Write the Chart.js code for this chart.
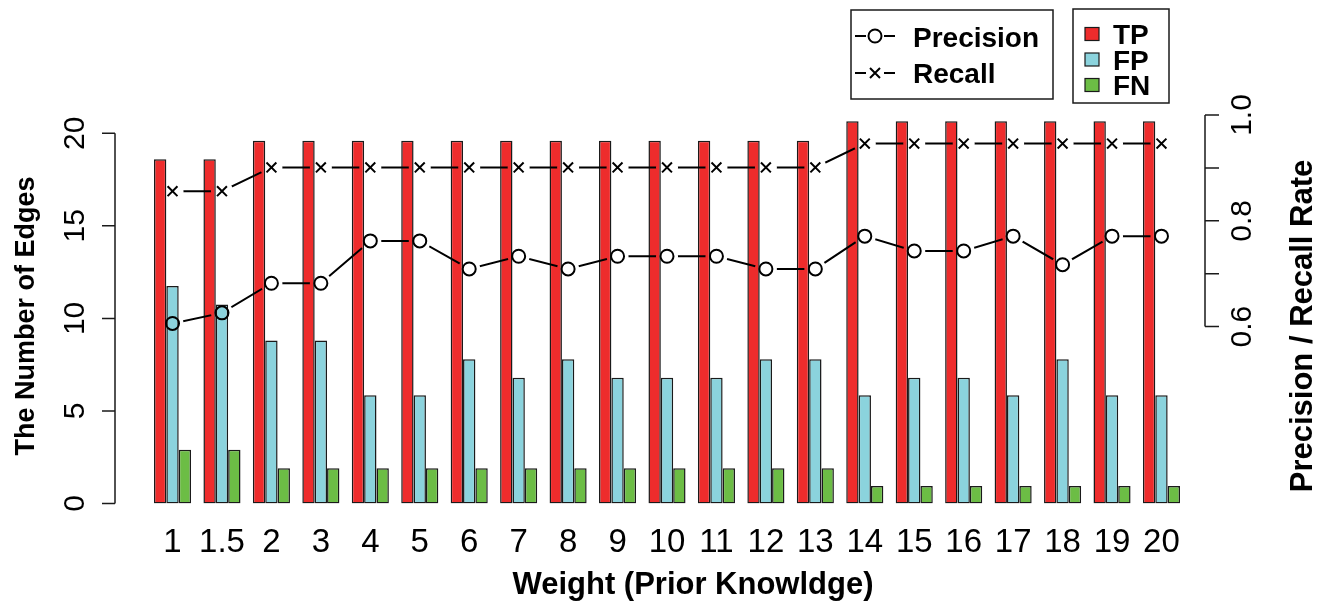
<!DOCTYPE html>
<html lang="en">
  <head>
    <meta charset="UTF-8" />
    <title>TP / FP / FN by weight</title>
    <style>
      body {
        margin: 0;
        background-color: white;
      }
      #chart-box {
        width: 1320px;
        height: 605px;
      }
    </style>
  </head>
  <body>
    <script src="https://cdn.jsdelivr.net/npm/chart.js@4.4.1/dist/chart.umd.min.js"></script>
    <div id="chart-box">
      <canvas id="edges-chart" width="1320" height="605"></canvas>
    </div>
    <script>
      // values
      var weights = ["1", "1.5", "2", "3", "4", "5", "6", "7", "8", "9", "10",
        "11", "12", "13", "14", "15", "16", "17", "18", "19", "20"];
      var tpData = [18.6, 18.6, 19.6, 19.6, 19.6, 19.6, 19.6, 19.6, 19.6, 19.6, 19.6,
        19.6, 19.6, 19.6, 20.65, 20.65, 20.65, 20.65, 20.65, 20.65, 20.65];
      var fpData = [11.75, 10.75, 8.8, 8.8, 5.85, 5.85, 7.8, 6.8, 7.8, 6.8, 6.8,
        6.8, 7.8, 7.8, 5.85, 6.8, 6.8, 5.85, 7.8, 5.85, 5.85];
      var fnData = [2.9, 2.9, 1.9, 1.9, 1.9, 1.9, 1.9, 1.9, 1.9, 1.9, 1.9,
        1.9, 1.9, 1.9, 0.95, 0.95, 0.95, 0.95, 0.95, 0.95, 0.95];
      var precisionData = [0.606, 0.626, 0.682, 0.682, 0.762, 0.762, 0.709, 0.733, 0.709, 0.733, 0.733,
        0.733, 0.709, 0.709, 0.771, 0.743, 0.743, 0.771, 0.717, 0.771, 0.771];
      var recallData = [0.856, 0.856, 0.901, 0.901, 0.901, 0.901, 0.901, 0.901, 0.901, 0.901, 0.901,
        0.901, 0.901, 0.901, 0.946, 0.946, 0.946, 0.946, 0.946, 0.946, 0.946];
      var leftTicks = [0, 5, 10, 15, 20];
      var rightTicks = [0.6, 0.7, 0.8, 0.9, 1.0];
      var rightTickLabels = ["0.6", "", "0.8", "", "1.0"];

      var FONT = '"Liberation Sans", Arial, sans-serif';
      var INK = "#1a1a1a";

      // cut the connecting lines short around each point, like R type="b"
      var gapPlugin = {
        id: "gaps",
        beforeDatasetDraw: function (chart, args) {
          var ds = chart.data.datasets[args.index];
          if (!ds.gapR) return;
          var ctx = chart.ctx;
          ctx.save();
          ctx.beginPath();
          ctx.rect(0, 0, chart.width, chart.height);
          args.meta.data.forEach(function (p) {
            ctx.moveTo(p.x + ds.gapR, p.y);
            ctx.arc(p.x, p.y, ds.gapR, 0, Math.PI * 2);
          });
          ctx.clip("evenodd");
        },
        afterDatasetDraw: function (chart, args) {
          if (chart.data.datasets[args.index].gapR) chart.ctx.restore();
        },
      };

      function rotatedText(ctx, text, x, y) {
        ctx.save();
        ctx.translate(x, y);
        ctx.rotate(-Math.PI / 2);
        ctx.fillText(text, 0, 0);
        ctx.restore();
      }

      // R style axes, labels and the two legend boxes
      var axesPlugin = {
        id: "rAxes",
        afterDraw: function (chart) {
          var ctx = chart.ctx;
          var ys = chart.scales.y, y2 = chart.scales.y1, xs = chart.scales.x;
          ctx.save();
          ctx.strokeStyle = INK;
          ctx.fillStyle = "black";
          ctx.lineWidth = 1.5;

          // left axis
          var lx = 115;
          ctx.beginPath();
          ctx.moveTo(lx, ys.getPixelForValue(0));
          ctx.lineTo(lx, ys.getPixelForValue(20));
          leftTicks.forEach(function (t) {
            ctx.moveTo(lx, ys.getPixelForValue(t));
            ctx.lineTo(lx - 13, ys.getPixelForValue(t));
          });
          ctx.stroke();
          ctx.font = "30px " + FONT;
          ctx.textAlign = "center";
          ctx.textBaseline = "alphabetic";
          leftTicks.forEach(function (t) {
            rotatedText(ctx, String(t), 84, ys.getPixelForValue(t));
          });

          // right axis
          var rx = 1205;
          ctx.beginPath();
          ctx.moveTo(rx, y2.getPixelForValue(0.6));
          ctx.lineTo(rx, y2.getPixelForValue(1.0));
          rightTicks.forEach(function (t) {
            ctx.moveTo(rx, y2.getPixelForValue(t));
            ctx.lineTo(rx + 14, y2.getPixelForValue(t));
          });
          ctx.stroke();
          rightTicks.forEach(function (t, i) {
            if (rightTickLabels[i]) rotatedText(ctx, rightTickLabels[i], 1251, y2.getPixelForValue(t));
          });

          // category labels
          ctx.font = "33px " + FONT;
          weights.forEach(function (w, i) {
            ctx.fillText(w, xs.getPixelForValue(i), 552);
          });

          // titles
          ctx.font = "bold 31px " + FONT;
          ctx.fillText("Weight (Prior Knowldge)", 693, 594);
          ctx.font = "bold 27px " + FONT;
          rotatedText(ctx, "The Number of Edges", 34, 316);
          ctx.font = "bold 31px " + FONT;
          rotatedText(ctx, "Precision / Recall Rate", 1312, 326);

          // legend: precision / recall
          ctx.lineWidth = 1.5;
          ctx.strokeRect(851, 10, 202, 89);
          ctx.lineWidth = 2;
          ctx.strokeStyle = "black";
          [[36, "Precision"], [73, "Recall"]].forEach(function (row, i) {
            var y = row[0];
            ctx.beginPath();
            ctx.moveTo(855, y);
            ctx.lineTo(866, y);
            ctx.moveTo(884, y);
            ctx.lineTo(895, y);
            if (i === 0) {
              ctx.moveTo(881.5, y);
              ctx.arc(875, y, 6.5, 0, Math.PI * 2);
            } else {
              ctx.moveTo(870, y - 5);
              ctx.lineTo(880, y + 5);
              ctx.moveTo(880, y - 5);
              ctx.lineTo(870, y + 5);
            }
            ctx.stroke();
          });
          ctx.font = "bold 28px " + FONT;
          ctx.textAlign = "left";
          ctx.fillText("Precision", 913, 47);
          ctx.fillText("Recall", 913, 83);

          // legend: bars
          ctx.lineWidth = 1.5;
          ctx.strokeStyle = INK;
          ctx.strokeRect(1073, 9, 96, 94);
          var keys = [["TP", "#ee2c2c", 34], ["FP", "#8bd3dd", 59.5], ["FN", "#6cbd45", 85]];
          keys.forEach(function (k) {
            ctx.fillStyle = k[1];
            ctx.fillRect(1085, k[2] - 6.5, 14, 13);
            ctx.lineWidth = 1.2;
            ctx.strokeRect(1085, k[2] - 6.5, 14, 13);
            ctx.fillStyle = "black";
            ctx.font = "bold 28px " + FONT;
            ctx.fillText(k[0], 1113, k[2] + 10);
          });
          ctx.restore();
        },
      };

      var barStyle = {
        borderColor: INK,
        borderWidth: 1.5,
        borderSkipped: false,
        categoryPercentage: 0.75,
        barPercentage: 1.0,
        yAxisID: "y",
        order: 2,
      };

      var chart = new Chart(document.getElementById("edges-chart"), {
        type: "bar",
        data: {
          labels: weights,
          datasets: [
            Object.assign({ label: "TP", data: tpData, backgroundColor: "#ee2c2c" }, barStyle),
            Object.assign({ label: "FP", data: fpData, backgroundColor: "#8bd3dd" }, barStyle),
            Object.assign({ label: "FN", data: fnData, backgroundColor: "#6cbd45" }, barStyle),
            {
              type: "line", label: "Precision line", data: precisionData, yAxisID: "y1",
              borderColor: "black", borderWidth: 2, pointRadius: 0, fill: false, tension: 0,
              gapR: 11, order: 1,
            },
            {
              type: "line", label: "Recall line", data: recallData, yAxisID: "y1",
              borderColor: "black", borderWidth: 2, pointRadius: 0, fill: false, tension: 0,
              gapR: 11, order: 1,
            },
            {
              type: "line", label: "Precision", data: precisionData, yAxisID: "y1", showLine: false,
              pointStyle: "circle", pointRadius: 6.5, pointBorderWidth: 2,
              pointBorderColor: "black", pointBackgroundColor: "rgba(0,0,0,0)", order: 0,
            },
            {
              type: "line", label: "Recall", data: recallData, yAxisID: "y1", showLine: false,
              pointStyle: "crossRot", pointRadius: 7, pointBorderWidth: 2,
              pointBorderColor: "black", pointBackgroundColor: "black", order: 0,
            },
          ],
        },
        options: {
          responsive: false,
          animation: false,
          devicePixelRatio: 1,
          layout: {
            padding: { left: 147.8, right: 133.8, top: 100, bottom: 101.5 },
          },
          plugins: {
            legend: { display: false },
            tooltip: { enabled: false },
          },
          scales: {
            x: { type: "category", display: false, offset: true },
            y: { type: "linear", display: false, min: 0, max: 21.8 },
            y1: { type: "linear", display: false, min: 0.2656, max: 1.0284 },
          },
        },
        plugins: [gapPlugin, axesPlugin],
      });
    </script>
  </body>
</html>
